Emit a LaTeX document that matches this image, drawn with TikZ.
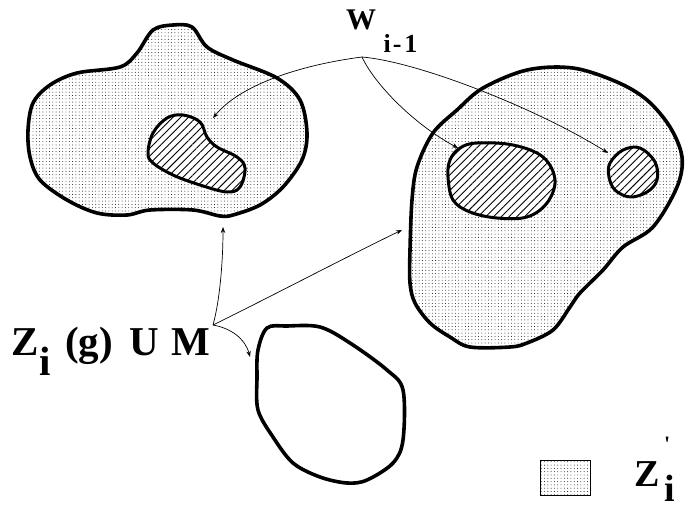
\documentclass[tikz,border=0pt]{standalone}
\usepackage{fontspec}
\newfontfamily\tb{LiberationSerif}[Extension=.ttf, UprightFont=*-Bold]
\usetikzlibrary{patterns.meta,arrows.meta}
\tikzset{
  region/.style={line width=3.6pt, line join=round, pattern={Dots[distance=3.3pt,radius=0.45pt]}, pattern color=black},
  hole/.style={line width=3pt, line join=round, preaction={fill=white}, pattern={Lines[angle=45,distance=5.5pt,line width=0.9pt]}},
  emptyreg/.style={line width=3.6pt, line join=round},
  conn/.style={line width=0.7pt, -{Stealth[length=6pt,width=4.5pt]}},
  lab/.style={inner sep=0pt, anchor=base west}
}
\begin{document}
\begin{tikzpicture}[x=1pt,y=-1pt]
\useasboundingbox (0,0) rectangle (685,508);
% left region
\draw[region] plot[smooth cycle, tension=0.55] coordinates {(28,130) (33,103) (50,85) (77,73) (120,67) (137,53) (153,30) (173,25) (192,27) (207,47) (233,60) (277,78) (300,100) (307,133) (302,160) (283,187) (260,205) (233,215) (220,216) (193,210) (150,210) (127,215) (97,213) (67,200) (40,180) (30,157)};
\draw[hole] plot[smooth cycle, tension=0.6] coordinates {(148,153) (153,133) (167,118) (183,115) (200,122) (207,137) (217,147) (237,157) (245,168) (240,187) (227,192) (200,185) (173,175) (153,163)};
% right region
\draw[region] plot[smooth cycle, tension=0.55] coordinates {(527,70) (573,68) (617,82) (647,100) (670,127) (682,157) (677,187) (653,227) (623,247) (603,270) (580,293) (570,307) (553,330) (527,343) (510,347) (470,347) (450,337) (430,323) (415,303) (410,283) (410,250) (412,200) (417,167) (433,133) (457,110) (483,88)};
\draw[hole] plot[smooth cycle, tension=0.6] coordinates {(450,160) (460,148) (477,143) (513,145) (543,157) (555,180) (547,203) (527,217) (497,218) (470,212) (453,200) (448,177)};
\draw[hole] plot[smooth cycle, tension=0.6] coordinates {(610,163) (623,150) (640,148) (655,162) (657,180) (647,192) (630,197) (615,190) (609,177)};
% bottom region
\draw[emptyreg] plot[smooth cycle, tension=0.55] coordinates {(267,328) (287,326) (320,327) (350,343) (387,370) (403,390) (403,440) (393,463) (367,480) (347,483) (320,477) (293,463) (273,437) (258,410) (257,377) (258,350)};
% labels
\node[lab, font=\tb\fontsize{30}{30}\selectfont] (W) at (346,30) {W\kern0.25em\raisebox{-0.75em}{\fontsize{26}{26}\selectfont i\kern0.08em-\kern0.1em1}};
\node[lab, font=\tb\fontsize{41}{41}\selectfont] (Z) at (11,355) {Z\kern0.02em\raisebox{-0.5em}{i}\kern0.35em(g)\hspace{0.4em}U\hspace{0.3em}M};
% legend
\draw[line width=0.8pt, pattern={Dots[distance=3.3pt,radius=0.45pt]}, pattern color=black] (540,460) rectangle (590,495);
\node[lab, font=\tb\fontsize{38}{38}\selectfont] (Zp) at (634,486) {Z\kern0.12em\rlap{\raisebox{0.9em}{\fontsize{22}{22}\selectfont\textquotesingle}}\raisebox{-0.4em}{i}};
% connector end points
\coordinate (wsrc) at (362,57);
\coordinate (zsrc) at (213,325);
\coordinate (tA) at (213,118);
\coordinate (tB) at (458,148);
\coordinate (tC) at (608,153);
\coordinate (tD) at (223,227);
\coordinate (tE) at (402,230);
\coordinate (tF) at (250,357);
\draw[conn] (wsrc) .. controls (300,65) and (240,85) .. (tA);
\draw[conn] (wsrc) .. controls (375,85) and (415,125) .. (tB);
\draw[conn] (wsrc) .. controls (420,62) and (540,110) .. (tC);
\draw[conn] (zsrc) .. controls (220,300) and (223,260) .. (tD);
\draw[conn] (zsrc) .. controls (270,297) and (350,255) .. (tE);
\draw[conn] (zsrc) .. controls (230,328) and (245,338) .. (tF);
\end{tikzpicture}
\end{document}
